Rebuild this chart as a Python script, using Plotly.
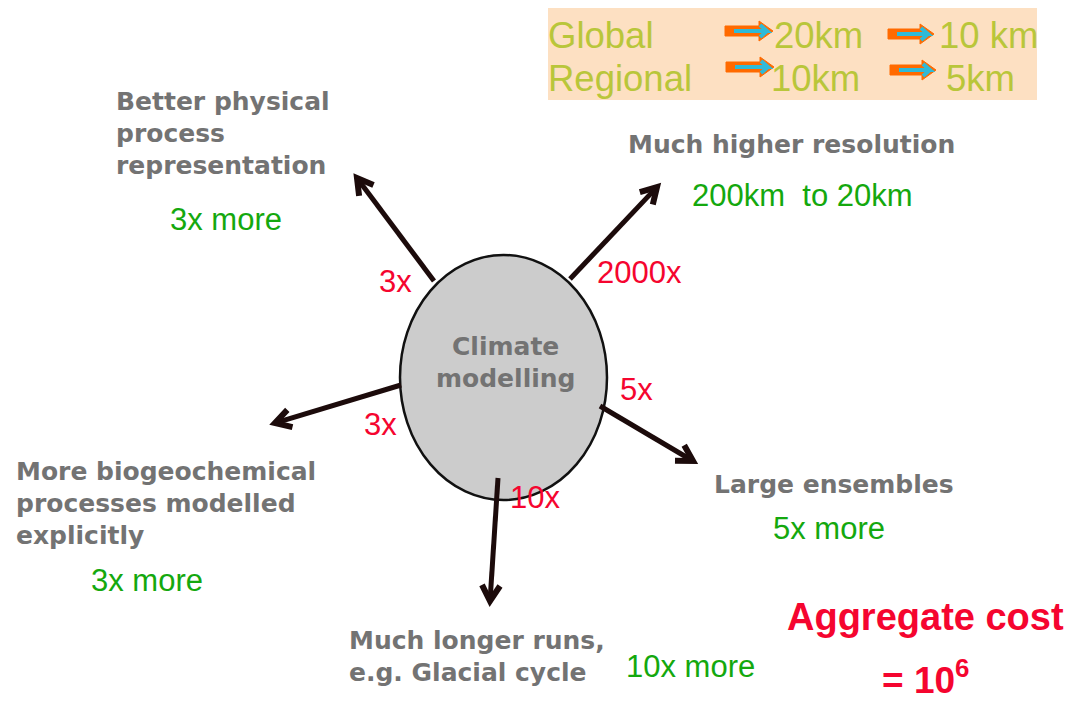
import numpy as np
import plotly.graph_objects as go

W, H = 1069, 704

# Cost multipliers for each direction of model development
directions = [
    "Better physical\nprocess\nrepresentation",
    "Much higher resolution",
    "Large ensembles",
    "More biogeochemical\nprocesses modelled\nexplicitly",
    "Much longer runs,\ne.g. Glacial cycle",
]
factors = ["3x", "2000x", "5x", "3x", "10x"]
increases = ["3x more", "200km  to 20km", "5x more", "3x more", "10x more"]
centre_label = "Climate\nmodelling"
aggregate_label = "Aggregate cost"
aggregate_value = "= 10<sup>6</sup>"

# Resolution targets
domains = ["Global", "Regional"]
res_step1 = ["20km", "10km"]
res_step2 = ["10 km", "5km"]

GRAY = "#737373"
GREEN = "#14a80e"
RED = "#f5052f"
OLIVE = "#b9c63a"
DARK = "#1c0b0b"

fig = go.Figure()
shapes = []
ann = []

# central ellipse
cx0, cx1, cy0, cy1 = 400, 607, 255, 500
shapes.append(dict(type="circle", xref="x", yref="y", x0=cx0, x1=cx1, y0=cy0, y1=cy1,
                   fillcolor="#cccccc", line=dict(color="#111111", width=2.5), layer="below"))

# arrow geometry: (start on ellipse, tip)
arrows = [((434, 281), (357, 178)),
          ((570, 279), (657, 187)),
          ((600, 406), (693, 461)),
          ((401, 385), (275, 423)),
          ((498, 478), (490, 601))]

for (sx, sy), (tx, ty) in arrows:
    d = np.array([tx - sx, ty - sy], float)
    d /= np.linalg.norm(d)
    L = 18
    pts = []
    for ang in (np.radians(30), -np.radians(30)):
        c, s = np.cos(ang), np.sin(ang)
        r = np.array([c * -d[0] - s * -d[1], s * -d[0] + c * -d[1]])
        pts.append((tx + L * r[0], ty + L * r[1]))
    shaft = f"M {sx},{sy} L {tx - 4 * d[0]:.1f},{ty - 4 * d[1]:.1f}"
    head = (f"M {pts[0][0]:.1f},{pts[0][1]:.1f} L {tx},{ty} "
            f"L {pts[1][0]:.1f},{pts[1][1]:.1f}")
    shapes.append(dict(type="path", xref="x", yref="y", path=shaft,
                       line=dict(color=DARK, width=5)))
    shapes.append(dict(type="path", xref="x", yref="y", path=head,
                       line=dict(color=DARK, width=6)))


def text(x, y, s, size, color, family="Liberation Sans", anchor="left", bold=False,
         yanchor="middle"):
    ann.append(dict(x=x, y=y, xref="x", yref="y", text=s,
                    showarrow=False, xanchor=anchor, yanchor=yanchor,
                    font=dict(size=size, color=color, family=family,
                              weight="bold" if bold else "normal")))


def block(x, y, s, spacing=32, **kw):
    for i, line in enumerate(s.split("\n")):
        text(x, y + i * spacing, line, **kw)


# centre label
block(505, 346, centre_label, spacing=32, size=25, color=GRAY, family="DejaVu Sans",
      anchor="center", bold=True)

# direction labels
label_pos = [(114, 101), (626, 144), (712, 484), (14, 471), (347, 640)]
for (x, y), s in zip(label_pos, directions):
    block(x, y, s, size=25, color=GRAY, family="DejaVu Sans", bold=True)

# cost factors along arrows
factor_pos = [(395, 281), (639, 272), (636, 389), (380, 424), (535, 497)]
for (x, y), s in zip(factor_pos, factors):
    text(x, y, s, 31, RED, anchor="center")

# increases in green
inc_pos = [(226, 219), (802, 195), (829, 528), (147, 580), (690, 666)]
for (x, y), s in zip(inc_pos, increases):
    text(x, y, s, 31, GREEN, anchor="center")

# aggregate cost
text(925, 617, aggregate_label, 38, RED, anchor="center", bold=True)
text(925, 703, aggregate_value, 37, RED, anchor="center", bold=True, yanchor="bottom")

# resolution box
shapes.append(dict(type="rect", xref="x", yref="y", x0=548, x1=1037, y0=8, y1=100,
                   fillcolor="#fde0c2", line=dict(width=0), layer="below"))
row_y = [35, 78]
for i, dom in enumerate(domains):
    text(546, row_y[i], dom, 36.5, OLIVE)
step1_x = [772, 769]
step2_x = [937, 944]
for i in range(2):
    text(step1_x[i], row_y[i], res_step1[i], 36.5, OLIVE)
    text(step2_x[i], row_y[i], res_step2[i], 36.5, OLIVE)

# orange/cyan block arrows in the box
box_arrows = [(725, 773, 31), (888, 934, 34), (726, 774, 67), (890, 936, 70)]
for x0, x1, yc in box_arrows:
    hx = x1 - 14
    path = (f"M {x0},{yc-5} L {hx},{yc-5} L {hx},{yc-10} L {x1},{yc} "
            f"L {hx},{yc+10} L {hx},{yc+5} L {x0},{yc+5} Z")
    shapes.append(dict(type="path", xref="x", yref="y", path=path,
                       fillcolor="#ff6a00", line=dict(color="#ff6a00", width=1)))
    shapes.append(dict(type="path", xref="x", yref="y",
                       path=f"M {x0+9},{yc} L {x1-6},{yc} L {hx+1},{yc-6} M {x1-6},{yc} L {hx+1},{yc+6}",
                       line=dict(color="#2fbad8", width=4)))

fig.update_layout(
    width=W, height=H, margin=dict(l=0, r=0, t=0, b=0),
    paper_bgcolor="white", plot_bgcolor="white",
    xaxis=dict(range=[0, W], visible=False, fixedrange=True),
    yaxis=dict(range=[H, 0], visible=False, fixedrange=True),
    shapes=shapes, annotations=ann, showlegend=False,
)
fig.write_html("out.html")
